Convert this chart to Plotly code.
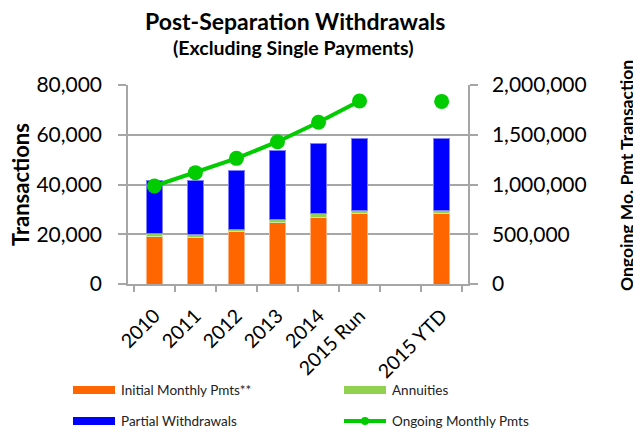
import plotly.graph_objects as go

categories = ["2010", "2011", "2012", "2013", "2014", "2015 Run", " ", "2015 YTD"]
initial_monthly = [19000, 18800, 21000, 24600, 26800, 28400, None, 28400]
annuities = [1400, 1300, 1100, 1500, 1600, 1300, None, 1300]
partial_withdrawals = [21400, 21700, 23700, 27400, 27900, 28900, None, 28900]
ongoing_monthly = [985000, 1119000, 1263000, 1430000, 1625000, 1839000, None, 1835000]

FONT = "Lato"
ORANGE = "#ff6600"
LGREEN = "#92d050"
BLUE = "#0000ff"
GREEN = "#00cc00"
GRID = "#a6a6a6"

# page has an 8px body margin; compensate so the plot area lands at x 128..468, y 85..284
OFF = 8
PL, PR, PT, PB = 128, 468, 85, 284

fig = go.Figure()
fig.add_trace(go.Bar(x=categories, y=initial_monthly, name="Initial Monthly Pmts**",
                     marker=dict(color=ORANGE, line=dict(color="#ffb080", width=1)), width=0.4))
fig.add_trace(go.Bar(x=categories, y=annuities, name="Annuities",
                     marker=dict(color=LGREEN, line=dict(color="#c8e8a8", width=1)), width=0.4))
fig.add_trace(go.Bar(x=categories, y=partial_withdrawals, name="Partial Withdrawals",
                     marker=dict(color=BLUE, line=dict(color="#8080ff", width=1)), width=0.4))
fig.add_trace(go.Scatter(x=categories, y=ongoing_monthly, name="Ongoing Monthly Pmts",
                         mode="lines+markers", yaxis="y2", connectgaps=False,
                         line=dict(color=GREEN, width=4),
                         marker=dict(color=GREEN, size=15)))

fig.update_layout(
    width=641 - OFF, height=433 - OFF,
    margin=dict(l=PL - OFF, r=641 - PR, t=PT - OFF, b=433 - PB),
    paper_bgcolor="white", plot_bgcolor="white",
    barmode="stack", bargap=0.6,
    showlegend=False,
    font=dict(family=FONT, color="black"),
    xaxis=dict(type="category", showgrid=False, showline=True, linecolor=GRID, linewidth=1.5,
               ticks="outside", tickson="boundaries", ticklen=6, tickcolor=GRID, tickwidth=1.5,
               tickangle=-45, tickfont=dict(size=19.5, family=FONT), ticklabelstandoff=11),
    yaxis=dict(range=[0, 80000], dtick=20000, tickformat=",d", showgrid=True, gridcolor=GRID,
               gridwidth=1.5, showline=True, linecolor=GRID, linewidth=1.5, ticks="outside",
               ticklen=8, tickcolor=GRID, tickwidth=1.5, tickfont=dict(size=21, family=FONT),
               zeroline=False, ticklabelstandoff=12),
    yaxis2=dict(range=[0, 2000000], dtick=500000, tickformat=",d", overlaying="y", side="right",
                showgrid=False, showline=True, linecolor=GRID, linewidth=1.5, ticks="outside",
                ticklen=8, tickcolor=GRID, tickwidth=1.5, tickfont=dict(size=21, family=FONT),
                zeroline=False, ticklabelstandoff=10),
)

W = PR - PL
H = PB - PT


def px(xp):
    return (xp - PL) / W


def py(yp):
    return (PB - yp) / H


def note(text, x, y, size, family=FONT, angle=0, xanchor="center", color="black"):
    fig.add_annotation(text=text, xref="paper", yref="paper", x=px(x), y=py(y),
                       xanchor=xanchor, yanchor="middle", textangle=angle, showarrow=False,
                       font=dict(size=size, family=family, color=color))


# Title
note("<b>Post-Separation Withdrawals</b>", 294.5, 21, 23)
note("<b>(Excluding Single Payments)</b>", 293, 47, 19.5)

# Axis titles
note("<b>Transactions</b>", 20, 185, 22, angle=-90)
note("<b>Ongoing Mo. Pmt Transaction</b>", 626, 176, 17.5, angle=-90)

# Legend (drawn manually)
legend_items = [
    ("Initial Monthly Pmts**", ORANGE, "bar", 73, 390),
    ("Annuities", LGREEN, "bar", 344, 390),
    ("Partial Withdrawals", BLUE, "bar", 73, 421),
    ("Ongoing Monthly Pmts", GREEN, "line", 344, 421),
]
for label, color, kind, x0, yc in legend_items:
    if kind == "bar":
        fig.add_shape(type="rect", xref="paper", yref="paper",
                      x0=px(x0), x1=px(x0 + 42), y0=py(yc + 4), y1=py(yc - 4),
                      fillcolor=color, line=dict(width=0))
    else:
        fig.add_shape(type="line", xref="paper", yref="paper",
                      x0=px(x0), x1=px(x0 + 42), y0=py(yc), y1=py(yc),
                      line=dict(color=color, width=4))
        fig.add_shape(type="circle", xref="paper", yref="paper",
                      x0=px(x0 + 17), x1=px(x0 + 25), y0=py(yc + 4), y1=py(yc - 4),
                      fillcolor=color, line=dict(width=0))
    note(label, x0 + 46, yc, 13.5, xanchor="left", color="#222222")

fig.write_html("out.html")
